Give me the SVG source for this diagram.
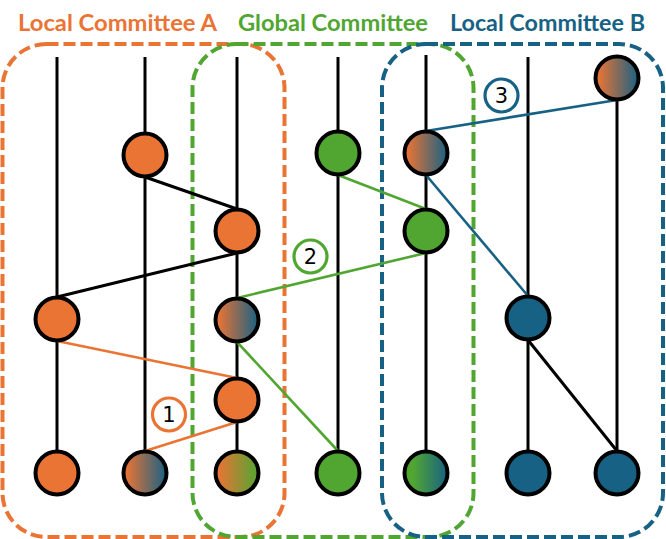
<svg xmlns="http://www.w3.org/2000/svg" width="666" height="539" viewBox="0 0 666 539">
<defs>
<linearGradient id="gOB" x1="0" y1="0" x2="1" y2="0"><stop offset="0.05" stop-color="#EA7434"/><stop offset="1" stop-color="#176184"/></linearGradient>
<linearGradient id="gOG" x1="0" y1="0" x2="1" y2="0"><stop offset="0.05" stop-color="#EA7434"/><stop offset="1" stop-color="#51A632"/></linearGradient>
<linearGradient id="gGB" x1="0" y1="0" x2="1" y2="0"><stop offset="0.2" stop-color="#51A632"/><stop offset="1" stop-color="#176184"/></linearGradient>
<style>
.box{fill:none;stroke-width:4;stroke-dasharray:12 5}
.title{font-family:Lato,"Open Sans",sans-serif;font-weight:bold;font-size:22px}
.v{stroke:#000;stroke-width:3;fill:none}
.e{stroke-width:2.6;fill:none}
.n{stroke:#000;stroke-width:4}
.lab{fill:#fff;stroke-width:3.2}
.num{font-family:"DejaVu Sans",sans-serif;font-size:21px;fill:#000;text-anchor:middle}
</style>
</defs>
<rect width="666" height="539" fill="#fff"/>
<g id="committees">
<rect class="box" x="2.5" y="44" width="282" height="493" rx="44" stroke="#EA7434"/>
<rect class="box" x="192.5" y="44" width="281" height="493" rx="44" stroke="#51A632"/>
<rect class="box" x="382" y="44" width="281" height="493" rx="44" stroke="#176184"/>
<text class="title" x="18" y="31" fill="#EA7434" textLength="199" lengthAdjust="spacingAndGlyphs">Local Committee A</text>
<text class="title" x="238" y="31" fill="#51A632" textLength="190" lengthAdjust="spacingAndGlyphs">Global Committee</text>
<text class="title" x="450" y="31" fill="#176184" textLength="195" lengthAdjust="spacingAndGlyphs">Local Committee B</text>
</g>
<g id="connectors">
<line class="v" x1="57" y1="57" x2="57" y2="473"/>
<line class="v" x1="145" y1="57" x2="145" y2="473"/>
<line class="v" x1="237" y1="57" x2="237" y2="473"/>
<line class="v" x1="338" y1="57" x2="338" y2="473"/>
<line class="v" x1="426" y1="55" x2="426" y2="473"/>
<line class="v" x1="528" y1="57" x2="528" y2="473"/>
<line class="v" x1="617" y1="78" x2="617" y2="473"/>
<line class="v" x1="145" y1="177" x2="237" y2="209"/>
<line class="v" x1="237" y1="253" x2="57" y2="297"/>
<line class="v" x1="528" y1="340" x2="617" y2="451"/>
<line class="e" stroke="#EA7434" x1="57" y1="341" x2="237" y2="378"/>
<line class="e" stroke="#EA7434" x1="237" y1="422" x2="145" y2="451"/>
<line class="e" stroke="#51A632" x1="338" y1="175" x2="426" y2="209"/>
<line class="e" stroke="#51A632" x1="426" y1="253" x2="237" y2="298"/>
<line class="e" stroke="#51A632" x1="237" y1="342" x2="338" y2="451"/>
<line class="e" stroke="#176184" x1="617" y1="100" x2="426" y2="131"/>
<line class="e" stroke="#176184" x1="426" y1="175" x2="528" y2="296"/>
</g>
<g id="a1"><circle class="n" cx="145" cy="155" r="21.5" fill="#EA7434"/></g>
<g id="a2"><circle class="n" cx="237" cy="231" r="21.5" fill="#EA7434"/></g>
<g id="a3"><circle class="n" cx="57" cy="319" r="21.5" fill="#EA7434"/></g>
<g id="a4"><circle class="n" cx="237" cy="320" r="21.5" fill="url(#gOB)"/></g>
<g id="a5"><circle class="n" cx="237" cy="400" r="21.5" fill="#EA7434"/></g>
<g id="g1"><circle class="n" cx="338" cy="153" r="21.5" fill="#51A632"/></g>
<g id="g2"><circle class="n" cx="426" cy="153" r="21.5" fill="url(#gOB)"/></g>
<g id="g3"><circle class="n" cx="426" cy="231" r="21.5" fill="#51A632"/></g>
<g id="b1"><circle class="n" cx="617" cy="78" r="21.5" fill="url(#gOB)"/></g>
<g id="b2"><circle class="n" cx="528" cy="318" r="21.5" fill="#176184"/></g>
<g id="f1"><circle class="n" cx="57" cy="473" r="21.5" fill="#EA7434"/></g>
<g id="f2"><circle class="n" cx="145" cy="473" r="21.5" fill="url(#gOB)"/></g>
<g id="f3"><circle class="n" cx="237" cy="473" r="21.5" fill="url(#gOG)"/></g>
<g id="f4"><circle class="n" cx="338" cy="473" r="21.5" fill="#51A632"/></g>
<g id="f5"><circle class="n" cx="426" cy="473" r="21.5" fill="url(#gGB)"/></g>
<g id="f6"><circle class="n" cx="528" cy="473" r="21.5" fill="#176184"/></g>
<g id="f7"><circle class="n" cx="617" cy="473" r="21.5" fill="#176184"/></g>
<g id="step1"><circle class="lab" cx="169" cy="414.5" r="16.5" stroke="#EA7434"/><text class="num" x="169" y="422">1</text></g>
<g id="step2"><circle class="lab" cx="310.5" cy="256.5" r="16.5" stroke="#51A632"/><text class="num" x="310.5" y="264">2</text></g>
<g id="step3"><circle class="lab" cx="501.5" cy="95.5" r="16.5" stroke="#176184"/><text class="num" x="501.5" y="103">3</text></g>
</svg>
